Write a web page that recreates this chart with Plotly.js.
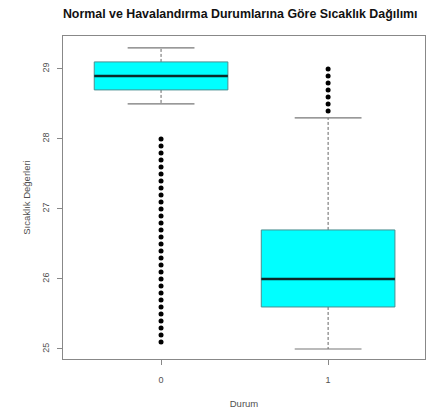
<!DOCTYPE html>
<html>
<head>
<meta charset="utf-8">
<script src="https://cdn.plot.ly/plotly-3.0.1.min.js"></script>
<style>html,body{margin:0;padding:0;background:#fff;}</style>
</head>
<body>
<div id="chart" style="width:429px;height:415px;"></div>
<script>
var categories = ['0', '1'];
var q1 = [28.7, 25.6];
var median = [28.9, 26.0];
var q3 = [29.1, 26.7];
var lowerWhisker = [28.5, 25.0];
var upperWhisker = [29.3, 28.3];
var outliers0 = [25.1, 25.2, 25.3, 25.4, 25.5, 25.6, 25.7, 25.8, 25.9, 26.0,
                 26.1, 26.2, 26.3, 26.4, 26.5, 26.6, 26.7, 26.8, 26.9, 27.0,
                 27.1, 27.2, 27.3, 27.4, 27.5, 27.6, 27.7, 27.8, 27.9, 28.0];
var outliers1 = [28.4, 28.5, 28.6, 28.7, 28.8, 28.9, 29.0];
var outliers = [outliers0, outliers1];

var boxHalf = 0.4, capHalf = 0.2;
var traces = [];
categories.forEach(function (c, i) {
  var x = i + 1;
  traces.push({x: [x, x, null, x, x], y: [q3[i], upperWhisker[i], null, q1[i], lowerWhisker[i]],
    mode: 'lines', line: {color: '#666', width: 1, dash: '3px,2px'}, hoverinfo: 'skip', showlegend: false});
  traces.push({x: [x - capHalf, x + capHalf, null, x - capHalf, x + capHalf],
    y: [upperWhisker[i], upperWhisker[i], null, lowerWhisker[i], lowerWhisker[i]],
    mode: 'lines', line: {color: '#777', width: 1.2}, hoverinfo: 'skip', showlegend: false});
  traces.push({x: [x - boxHalf, x + boxHalf, x + boxHalf, x - boxHalf, x - boxHalf],
    y: [q1[i], q1[i], q3[i], q3[i], q1[i]], mode: 'lines', fill: 'toself',
    fillcolor: '#00ffff', line: {color: '#4a8f90', width: 1}, hoverinfo: 'skip', showlegend: false});
  traces.push({x: [x - boxHalf, x + boxHalf], y: [median[i], median[i]], mode: 'lines',
    line: {color: '#0a2a2a', width: 2.5}, hoverinfo: 'skip', showlegend: false});
  traces.push({x: outliers[i].map(function () { return x; }), y: outliers[i], mode: 'markers',
    marker: {color: '#000', size: 5, symbol: 'circle'}, hoverinfo: 'y', showlegend: false});
});

var layout = {
  width: 429, height: 415,
  margin: {l: 63, r: 4, t: 36, b: 56},
  paper_bgcolor: '#fff', plot_bgcolor: '#fff',
  font: {family: 'Liberation Sans, Arial, sans-serif', color: '#505050', size: 9},
  title: {text: '<b>Normal ve Havalandırma Durumlarına Göre Sıcaklık Dağılımı</b>',
    font: {size: 12.4, color: '#111', family: 'Liberation Sans, Arial, sans-serif'},
    x: 0.56, xanchor: 'center', y: 0.968, yanchor: 'middle'},
  xaxis: {range: [0.413, 2.58], tickvals: [1, 2], ticktext: categories,
    showgrid: false, zeroline: false, showline: true, mirror: true, linecolor: '#888', linewidth: 1,
    ticks: 'outside', ticklen: 5, tickcolor: '#888', ticklabelstandoff: 7,
    tickfont: {size: 9, color: '#505050'},
    title: {text: 'Durum', font: {size: 9.5, color: '#505050'}, standoff: 16}},
  yaxis: {range: [24.857, 29.47], tickvals: [25, 26, 27, 28, 29], tickangle: -90,
    showgrid: false, zeroline: false, showline: true, mirror: true, linecolor: '#888', linewidth: 1,
    ticks: 'outside', ticklen: 5, tickcolor: '#888', ticklabelstandoff: 4,
    tickfont: {size: 9, color: '#505050'},
    title: {text: 'Sıcaklık Değerleri', font: {size: 9.5, color: '#505050'}, standoff: 9}}
};

Plotly.newPlot('chart', traces, layout, {displayModeBar: false, staticPlot: true});
</script>
</body>
</html>
